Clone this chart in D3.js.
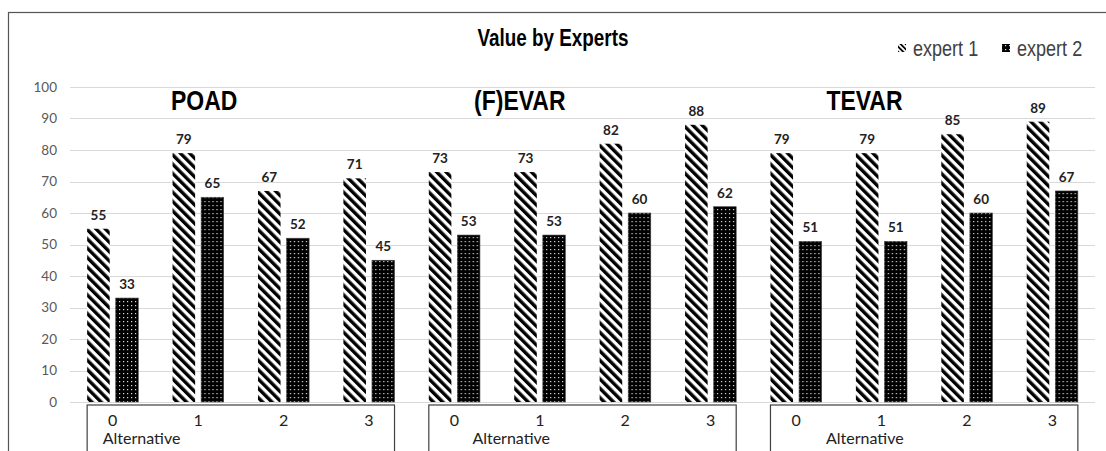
<!DOCTYPE html>
<html>
<head>
<meta charset="utf-8">
<script src="https://cdn.jsdelivr.net/npm/d3@7/dist/d3.min.js"></script>
<style>
  html, body { margin: 0; padding: 0; background: #fff; }
  svg { display: block; }
  .narrow { font-family: "Liberation Sans", Arial, sans-serif; }
  .cal { font-family: Lato, "Open Sans", "Noto Sans", sans-serif; }
</style>
</head>
<body>
<svg id="chart" width="1106" height="451"></svg>
<script>
// ---- data ----
const procedures = ["POAD", "(F)EVAR", "TEVAR"];
const alternatives = ["0", "1", "2", "3"];
const seriesNames = ["expert 1", "expert 2"];
const expert1 = [55, 79, 67, 71, 73, 73, 82, 88, 79, 79, 85, 89];
const expert2 = [33, 65, 52, 45, 53, 53, 60, 62, 51, 51, 60, 67];
const yTicks = [0, 10, 20, 30, 40, 50, 60, 70, 80, 90, 100];
const axisTitle = "Alternative";
const chartTitle = "Value by Experts";

// ---- layout ----
const W = 1106, H = 451;
const plot = { left: 70, right: 1095, top: 87, bottom: 402 };
const NARROW = 0.82;                        // horizontal squeeze for the condensed headings
const groupTitleOffset = [6, -20, -17];     // from band centre of each group's second bar pair
const axisTitleOffset = [-10, 18, 30];      // left edge of "Alternative" from first band centre

const svg = d3.select("#chart");

// condensed text: regular face squeezed horizontally
function narrowText(sel, x, yPos, txt, size, weight, fill, anchor) {
  return sel.append("text").attr("class", "narrow")
    .attr("transform", `translate(${x},${yPos}) scale(${NARROW},1)`)
    .attr("text-anchor", anchor || "start")
    .attr("font-size", size).attr("font-weight", weight).attr("fill", fill)
    .text(txt);
}

// patterns
const defs = svg.append("defs");
const hatch = defs.append("pattern")
  .attr("id", "hatch").attr("patternUnits", "userSpaceOnUse")
  .attr("width", 6.6).attr("height", 10)
  .attr("patternTransform", "rotate(-45)");
hatch.append("rect").attr("width", 6.6).attr("height", 10).attr("fill", "#fff");
hatch.append("rect").attr("x", 0).attr("width", 3.4).attr("height", 10).attr("fill", "#000");

// finer hatch for the legend swatch
const hatchSmall = defs.append("pattern")
  .attr("id", "hatchSmall").attr("patternUnits", "userSpaceOnUse")
  .attr("width", 3.6).attr("height", 10)
  .attr("patternTransform", "rotate(-45)");
hatchSmall.append("rect").attr("width", 3.6).attr("height", 10).attr("fill", "#fff");
hatchSmall.append("rect").attr("width", 1.7).attr("height", 10).attr("fill", "#000");

const dots = defs.append("pattern")
  .attr("id", "dots").attr("patternUnits", "userSpaceOnUse")
  .attr("width", 4).attr("height", 4);
dots.append("rect").attr("width", 4).attr("height", 4).attr("fill", "#000");
dots.append("rect").attr("x", 1).attr("y", 1).attr("width", 1.2).attr("height", 1.2).attr("fill", "#ddd");

const fills = ["url(#hatch)", "url(#dots)"];
const legendFills = ["url(#hatchSmall)", "url(#dots)"];

// chart frame
svg.append("rect")
  .attr("x", 8.5).attr("y", 12.5).attr("width", W + 20).attr("height", H + 20)
  .attr("fill", "#fff").attr("stroke", "#555").attr("stroke-width", 1.2);

// scales
const cats = d3.range(expert1.length);
const x0 = d3.scaleBand().domain(cats).range([plot.left, plot.right]).paddingInner(0).paddingOuter(0);
const x1 = d3.scaleBand().domain(seriesNames).range([0, x0.bandwidth()]).paddingInner(0.21).paddingOuter(0.6);
const y = d3.scaleLinear().domain([0, 100]).range([plot.bottom, plot.top]);

// gridlines
svg.append("g").selectAll("line").data(yTicks).join("line")
  .attr("x1", plot.left).attr("x2", plot.right)
  .attr("y1", d => Math.round(y(d)) + 0.5).attr("y2", d => Math.round(y(d)) + 0.5)
  .attr("stroke", "#d9d9d9").attr("stroke-width", 1.2);

// y tick labels
svg.append("g").selectAll("text").data(yTicks).join("text")
  .attr("class", "cal")
  .attr("x", 57).attr("y", d => y(d)).attr("dy", "0.35em")
  .attr("text-anchor", "end").attr("font-size", 13.5).attr("fill", "#595959")
  .text(d => d);

// bars
const rows = cats.map(i => ({ i, vals: [expert1[i], expert2[i]] }));
const groups = svg.append("g").selectAll("g").data(rows).join("g")
  .attr("transform", d => `translate(${x0(d.i)},0)`);

groups.selectAll("rect").data(d => d.vals.map((v, k) => ({ v, k }))).join("rect")
  .attr("x", d => x1(seriesNames[d.k]))
  .attr("width", x1.bandwidth())
  .attr("y", d => y(d.v))
  .attr("height", d => y(0) - y(d.v))
  .attr("fill", d => fills[d.k])
  .attr("stroke", d => d.k === 1 ? "#444" : "none")
  .attr("stroke-width", 0.6);

groups.selectAll("text").data(d => d.vals.map((v, k) => ({ v, k }))).join("text")
  .attr("class", "cal")
  .attr("x", d => x1(seriesNames[d.k]) + x1.bandwidth() / 2)
  .attr("y", d => y(d.v) - 9)
  .attr("text-anchor", "middle").attr("font-size", 13.5).attr("font-weight", 700)
  .attr("fill", "#222")
  .text(d => d.v);

// category boxes along the bottom
procedures.forEach((p, g) => {
  const first = g * alternatives.length;
  const last = first + alternatives.length - 1;
  const bx0 = x0(first) + x1(seriesNames[0]);
  const bx1 = x0(last) + x1(seriesNames[1]) + x1.bandwidth();
  svg.append("rect")
    .attr("x", bx0).attr("y", 405).attr("width", bx1 - bx0).attr("height", 60)
    .attr("fill", "#fff").attr("stroke", "#404040").attr("stroke-width", 1.2);

  alternatives.forEach((a, k) => {
    svg.append("text").attr("class", "cal")
      .attr("x", x0(first + k) + x0.bandwidth() / 2).attr("y", 426)
      .attr("text-anchor", "middle").attr("font-size", 16).attr("fill", "#222")
      .text(a);
  });

  svg.append("text").attr("class", "cal")
    .attr("x", x0(first) + x0.bandwidth() / 2 + axisTitleOffset[g]).attr("y", 444)
    .attr("font-size", 16).attr("fill", "#222")
    .text(axisTitle);

  narrowText(svg, x0(first + 1) + x0.bandwidth() / 2 + groupTitleOffset[g], 110,
    p, 28, 700, "#000", "middle");
});

// title
narrowText(svg, 553, 46, chartTitle, 23, 700, "#000", "middle");

// legend
const legend = svg.append("g");
const legendX = [898, 1002];
seriesNames.forEach((s, k) => {
  legend.append("rect")
    .attr("x", legendX[k]).attr("y", 44).attr("width", 8).attr("height", 8)
    .attr("fill", legendFills[k]);
  narrowText(legend, legendX[k] + 15, 56, s, 22, 400, "#404040");
});
</script>
</body>
</html>
